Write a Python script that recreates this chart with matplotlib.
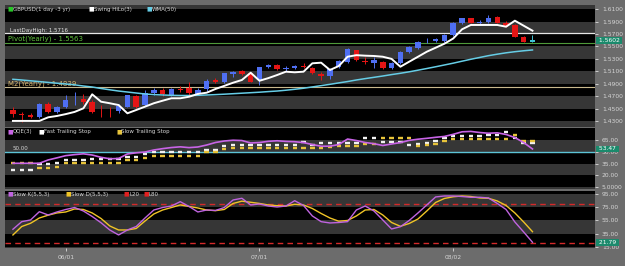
import matplotlib
matplotlib.use("Agg")
import matplotlib.pyplot as plt
import matplotlib.transforms as mtransforms
import numpy as np
import pandas as pd

# GBPUSD daily, 24 May - 13 Aug 2010
dates = pd.bdate_range("2010-05-24", periods=60)

opens = [1.4476, 1.4411, 1.4395, 1.4358, 1.4573, 1.4448, 1.4519, 1.4630, 1.4648, 1.4610,
         1.4480, 1.4480, 1.4465, 1.4529, 1.4703, 1.4556, 1.4745, 1.4798, 1.4718, 1.4815,
         1.4826, 1.4734, 1.4810, 1.4960, 1.4923, 1.5056, 1.5105, 1.5068, 1.4960, 1.5174,
         1.5202, 1.5132, 1.5148, 1.5190, 1.5153, 1.5056, 1.5024, 1.5170, 1.5250, 1.5444,
         1.5260, 1.5234, 1.5255, 1.5148, 1.5229, 1.5411, 1.5471, 1.5590, 1.5589, 1.5594,
         1.5685, 1.5884, 1.5955, 1.5885, 1.5900, 1.5971, 1.5884, 1.5847, 1.5658, 1.5577]
highs = [1.4524, 1.4448, 1.4420, 1.4590, 1.4600, 1.4545, 1.4718, 1.4771, 1.4730, 1.4640,
         1.4556, 1.4530, 1.4580, 1.4725, 1.4720, 1.4800, 1.4830, 1.4830, 1.4830, 1.4870,
         1.4923, 1.4830, 1.4980, 1.5000, 1.5075, 1.5110, 1.5120, 1.5080, 1.5174, 1.5220,
         1.5210, 1.5180, 1.5200, 1.5230, 1.5165, 1.5094, 1.5148, 1.5280, 1.5470, 1.5450,
         1.5326, 1.5326, 1.5270, 1.5250, 1.5430, 1.5500, 1.5590, 1.5632, 1.5640, 1.5700,
         1.5890, 1.5965, 1.5965, 1.5927, 1.6008, 1.5990, 1.5916, 1.5860, 1.5670, 1.5685]
lows = [1.4363, 1.4290, 1.4340, 1.4350, 1.4430, 1.4435, 1.4508, 1.4556, 1.4580, 1.4430,
        1.4368, 1.4360, 1.4420, 1.4520, 1.4510, 1.4540, 1.4720, 1.4700, 1.4700, 1.4760,
        1.4718, 1.4710, 1.4790, 1.4910, 1.4915, 1.5013, 1.5040, 1.4920, 1.4879, 1.5150,
        1.5120, 1.5110, 1.5130, 1.5150, 1.5060, 1.4960, 1.4971, 1.5150, 1.5240, 1.5270,
        1.5218, 1.5148, 1.5130, 1.5140, 1.5220, 1.5400, 1.5460, 1.5552, 1.5575, 1.5580,
        1.5670, 1.5870, 1.5875, 1.5847, 1.5884, 1.5875, 1.5820, 1.5650, 1.5570, 1.5577]
closes = [1.4411, 1.4390, 1.4358, 1.4573, 1.4439, 1.4529, 1.4637, 1.4640, 1.4600, 1.4448,
          1.4470, 1.4470, 1.4540, 1.4718, 1.4519, 1.4745, 1.4798, 1.4729, 1.4814, 1.4805,
          1.4745, 1.4798, 1.4948, 1.4927, 1.5068, 1.5094, 1.5056, 1.4932, 1.5165, 1.5202,
          1.5132, 1.5153, 1.5190, 1.5165, 1.5073, 1.5024, 1.5137, 1.5266, 1.5460, 1.5282,
          1.5250, 1.5282, 1.5148, 1.5239, 1.5416, 1.5492, 1.5577, 1.5596, 1.5616, 1.5685,
          1.5884, 1.5955, 1.5884, 1.5893, 1.5955, 1.5884, 1.5831, 1.5658, 1.5577, 1.5602]

swing_hilo = [1.4300, 1.4300, 1.4300, 1.4300, 1.4358, 1.4380, 1.4410, 1.4445, 1.4503, 1.4729,
              1.4610, 1.4585, 1.4556, 1.4423, 1.4476, 1.4530, 1.4585, 1.4626, 1.4665, 1.4665,
              1.4690, 1.4735, 1.4755, 1.4815, 1.4865, 1.4916, 1.4960, 1.5077, 1.4948, 1.4990,
              1.5040, 1.5094, 1.5084, 1.5094, 1.5229, 1.5239, 1.5121, 1.5185, 1.5335, 1.5360,
              1.5352, 1.5347, 1.5335, 1.5300, 1.5174, 1.5255, 1.5335, 1.5416, 1.5480, 1.5545,
              1.5629, 1.5777, 1.5847, 1.5847, 1.5847, 1.5847, 1.5819, 1.5916, 1.5835, 1.5755]
wma50 = [1.4971, 1.4960, 1.4947, 1.4934, 1.4921, 1.4908, 1.4895, 1.4882, 1.4863, 1.4847,
         1.4823, 1.4802, 1.4782, 1.4766, 1.4750, 1.4734, 1.4724, 1.4718, 1.4713, 1.4710,
         1.4710, 1.4713, 1.4718, 1.4724, 1.4731, 1.4739, 1.4747, 1.4755, 1.4763, 1.4773,
         1.4782, 1.4795, 1.4810, 1.4827, 1.4848, 1.4869, 1.4890, 1.4913, 1.4935, 1.4960,
         1.4982, 1.5003, 1.5024, 1.5047, 1.5068, 1.5092, 1.5118, 1.5145, 1.5173, 1.5202,
         1.5231, 1.5263, 1.5294, 1.5323, 1.5352, 1.5376, 1.5398, 1.5416, 1.5431, 1.5444]

last_day_high = 1.5716
pivot_yearly = 1.5563
m2_yearly = 1.4839

qqe = [35.3, 35.3, 35.3, 35.3, 39.5, 42.2, 45.0, 46.3, 47.3, 45.8,
       42.9, 41.0, 41.4, 47.1, 48.6, 49.6, 52.2, 53.9, 55.3, 56.2,
       55.2, 56.0, 58.5, 61.7, 63.6, 64.6, 64.2, 61.1, 61.7, 63.2,
       63.9, 63.1, 62.7, 61.6, 59.1, 57.0, 57.0, 59.1, 66.1, 64.2,
       61.7, 60.2, 57.9, 59.8, 61.6, 64.4, 65.9, 67.0, 68.3, 69.4,
       72.1, 75.3, 75.8, 74.4, 73.5, 74.0, 71.9, 68.0, 61.7, 53.47]
fast_stop = [26.7, 26.7, 26.7, 34.0, 34.0, 36.0, 39.5, 39.5, 39.5, 40.3,
             40.3, 40.3, 40.3, 43.6, 43.6, 46.7, 49.2, 49.2, 49.2, 49.2,
             49.2, 49.2, 52.2, 52.2, 57.2, 58.5, 58.5, 58.5, 58.5, 58.5,
             58.5, 58.5, 58.5, 62.7, 58.5, 61.4, 61.4, 61.4, 61.4, 61.4,
             67.0, 67.0, 62.7, 62.7, 62.7, 58.5, 59.5, 61.4, 63.0, 67.8,
             69.9, 69.9, 69.9, 69.9, 71.2, 71.2, 75.4, 67.0, 61.4, 60.7]
slow_stop = [35.3, 35.3, 35.3, 28.9, 28.9, 31.0, 36.0, 36.0, 36.0, 36.0,
             36.0, 36.0, 36.0, 39.5, 39.5, 42.4, 44.9, 44.9, 44.9, 44.9,
             44.9, 44.9, 49.2, 49.2, 53.0, 54.3, 54.3, 54.3, 54.3, 54.3,
             54.3, 54.3, 54.3, 54.3, 54.3, 54.3, 56.4, 57.2, 57.2, 57.2,
             59.8, 59.8, 67.0, 67.0, 67.0, 67.0, 57.2, 57.9, 59.8, 64.0,
             65.8, 65.8, 65.8, 65.8, 65.8, 65.8, 65.8, 71.2, 64.0, 64.0]

slow_k = [41.6, 53.2, 55.8, 68.4, 63.4, 68.0, 71.8, 74.8, 69.5, 61.1,
          51.6, 40.5, 32.9, 40.5, 45.8, 58.8, 71.0, 74.8, 77.1, 83.7,
          76.4, 68.0, 71.0, 70.3, 74.8, 86.3, 88.9, 78.7, 80.2, 77.1,
          75.6, 77.1, 85.2, 77.9, 61.9, 53.2, 51.2, 51.9, 53.2, 71.0,
          77.1, 69.5, 55.8, 42.0, 45.5, 55.0, 66.5, 78.7, 90.9, 92.4,
          92.4, 91.6, 90.4, 90.4, 89.4, 81.0, 71.8, 52.7, 37.4, 21.79]
slow_d = [32.9, 45.8, 50.7, 58.8, 63.1, 66.5, 68.0, 72.6, 71.8, 66.5,
          58.1, 46.6, 40.5, 40.5, 42.8, 54.2, 64.9, 71.0, 74.8, 78.7,
          76.4, 74.1, 71.0, 70.0, 71.8, 81.0, 84.5, 82.8, 81.0, 78.7,
          77.6, 77.1, 79.7, 78.7, 73.3, 65.7, 58.8, 53.9, 55.0, 61.9,
          71.0, 71.8, 63.4, 51.9, 46.1, 50.4, 57.3, 69.5, 82.5, 88.6,
          91.2, 92.4, 91.6, 89.4, 88.9, 84.8, 77.9, 66.5, 52.7, 37.9]
stoch_levels = [20, 80]

BG = "#6c6c6c"
BAND = "#363636"
TXT = "#d6d6d6"
TEAL = "#1b8a6c"

x = np.arange(len(closes))
xlim = (-0.9, 66.1)

fig = plt.figure(figsize=(6.25, 2.66), dpi=100)
fig.patch.set_facecolor(BG)
plt.rcParams["font.family"] = ["DejaVu Sans"]

L, W = 5 / 625, 590 / 625
ax_p = fig.add_axes([L, 1 - 127 / 266, W, 122 / 266])
ax_q = fig.add_axes([L, 1 - 189 / 266, W, 60.5 / 266])
ax_s = fig.add_axes([L, 1 - 248 / 266, W, 57 / 266])


def style(ax, ylim, bands, ticks, fmt):
    ax.set_facecolor("black")
    ax.set_xlim(*xlim)
    ax.set_ylim(*ylim)
    for lo, hi in bands:
        ax.axhspan(lo, hi, color=BAND, lw=0, zorder=0)
    for sp in ax.spines.values():
        sp.set_visible(False)
    ax.yaxis.tick_right()
    ax.set_yticks(ticks)
    ax.set_yticklabels([fmt(t) for t in ticks])
    ax.tick_params(axis="y", length=2, width=0.6, color="#dddddd", labelsize=4.3,
                   labelcolor=TXT, pad=3)
    ax.set_xticks([])


def value_box(ax, val, label):
    tr = mtransforms.blended_transform_factory(ax.transAxes, ax.transData)
    ax.text(1.003, val, f" {label} ", transform=tr, ha="left", va="center", fontsize=4.3,
            color="white", clip_on=False, zorder=10,
            bbox=dict(boxstyle="square,pad=0.15", fc=TEAL, ec="none"))


def legend_row(ax, items, y=0.985):
    pos = 0.004
    for col, lab in items:
        ax.text(pos, y, "■", transform=ax.transAxes, color=col, fontsize=4.2, va="top", ha="left")
        ax.text(pos + 0.009, y, lab, transform=ax.transAxes, color=TXT, fontsize=4.0,
                va="top", ha="left")
        pos += 0.014 + 0.0105 * len(lab) * 0.62


# price panel
style(ax_p, (1.4202, 1.6169),
      [(1.61, 1.63), (1.57, 1.59), (1.53, 1.55), (1.49, 1.51), (1.45, 1.47), (1.41, 1.43)],
      np.arange(1.43, 1.6101, 0.02), lambda t: f"{t:.4f}")

ax_p.axhline(last_day_high, color="#e6e6e6", lw=0.9, zorder=2)
ax_p.axhline(pivot_yearly, color="#4f9a3a", lw=0.8, zorder=2)
ax_p.axhline(m2_yearly, color="#c9b98e", lw=0.8, zorder=2)
ax_p.text(-0.3, last_day_high + 0.0008, "LastDayHigh: 1.5716", color="#e6e6e6", fontsize=4.0,
          va="bottom", ha="left")
ax_p.text(-0.6, pivot_yearly + 0.0005, "Pivot(Yearly) - 1.5563", color="#5fc03c", fontsize=5.0,
          va="bottom", ha="left")
ax_p.text(-0.6, m2_yearly + 0.0003, "M2(Yearly) - 1.4839", color="#d8b870", fontsize=5.0,
          va="bottom", ha="left")

for i in x:
    o, h, l, c = opens[i], highs[i], lows[i], closes[i]
    if i == len(x) - 1:
        col = "#3fc4d6"
    elif c >= o:
        col = "#4f6ff2"
    else:
        col = "#e51515"
    ax_p.vlines(i, l, h, color=col, lw=0.7, zorder=3)
    ax_p.bar(i, max(abs(c - o), 0.0005), bottom=min(o, c), width=0.62, color=col, lw=0, zorder=3)

ax_p.plot(x, wma50, color="#66cde6", lw=1.1, zorder=4)
ax_p.plot(x, swing_hilo, color="white", lw=1.4, zorder=5)
value_box(ax_p, closes[-1], f"{closes[-1]:.4f}")
legend_row(ax_p, [("#28c828", "GBPUSD(1 day -3 yr)"), ("white", "Swing HiLo(3)"),
                  ("#66cde6", "WMA(50)")])

# QQE panel
style(ax_q, (2.6, 79.5), [(50, 65), (20, 35), (-10, 5)],
      [65, 50, 35, 20, 5], lambda t: "5.0000" if t == 5 else f"{t:.2f}")
ax_q.axhline(50, color="#5cc3d6", lw=1.0, zorder=2)
ax_q.text(0.0, 50.8, "50.00", color=TXT, fontsize=4.0, va="bottom", ha="left")
ax_q.hlines(fast_stop, x - 0.25, x + 0.25, color="#f2f2f2", lw=1.7, zorder=3)
ax_q.hlines(slow_stop, x - 0.25, x + 0.25, color="#e8c43a", lw=1.7, zorder=3)
ax_q.plot(x, qqe, color="#c864e6", lw=1.2, zorder=4)
value_box(ax_q, qqe[-1], f"{qqe[-1]:.2f}")
legend_row(ax_q, [("#c864e6", "QQE(3)"), ("white", "Fast Trailing Stop"),
                  ("#e8c43a", "Slow Trailing Stop")])

# stochastic panel
style(ax_s, (13.0, 100.0), [(75, 95), (35, 55), (-5, 15)],
      [95, 75, 55, 35, 15], lambda t: f"{t:.2f}")
for lev in stoch_levels:
    ax_s.axhline(lev, color="#d42a2a", lw=1.0, dashes=(4, 3), zorder=2)
ax_s.plot(x, slow_d, color="#f0c426", lw=1.0, zorder=3)
ax_s.plot(x, slow_k, color="#c064e0", lw=1.0, zorder=4)
value_box(ax_s, slow_k[-1], f"{slow_k[-1]:.2f}")
legend_row(ax_s, [("#c064e0", "Slow K(5,5,3)"), ("#f0c426", "Slow D(5,5,3)"),
                  ("#e02020", "L20"), ("#e02020", "L80")])

# month ticks on the first bar of each new month
month_starts = [i for i in range(1, len(dates)) if dates[i].month != dates[i - 1].month]
ax_s.set_xticks(month_starts)
ax_s.set_xticklabels([dates[i].strftime("%m/%d") for i in month_starts])
ax_s.tick_params(axis="x", length=2, width=0.6, color="#dddddd", labelsize=4.3,
                 labelcolor=TXT, pad=3)

fig.savefig("out.png", dpi=100, facecolor=BG)
